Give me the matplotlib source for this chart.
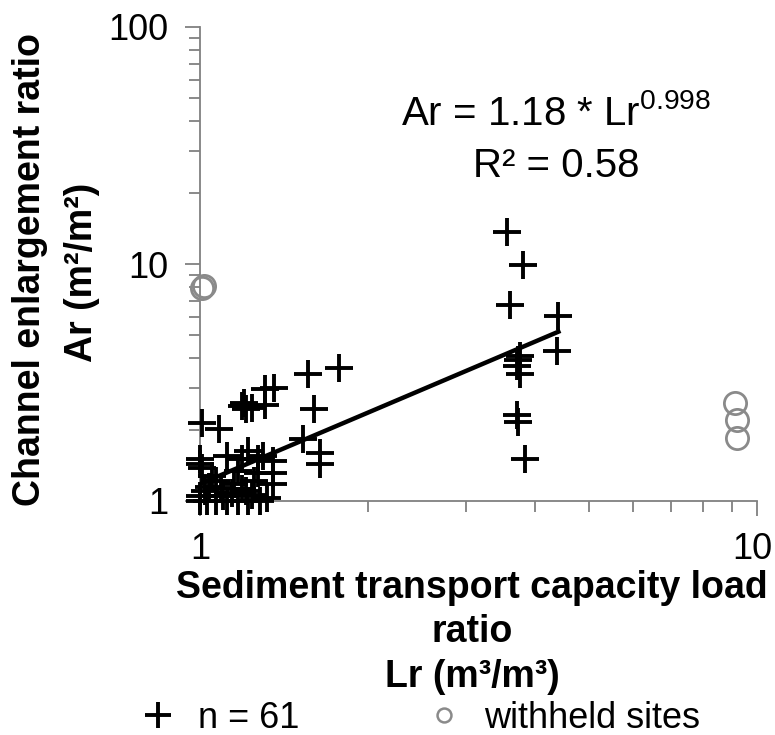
import matplotlib

matplotlib.use("Agg")
import matplotlib.pyplot as plt
from matplotlib.lines import Line2D
from matplotlib.ticker import LogLocator, NullFormatter
from matplotlib.transforms import offset_copy

plt.rcParams["font.family"] = ["Liberation Sans", "DejaVu Sans"]
plt.rcParams["mathtext.fontset"] = "custom"
plt.rcParams["mathtext.rm"] = "Liberation Sans"
plt.rcParams["mathtext.default"] = "regular"

# measured sites (n = 61): load ratio Lr vs enlargement ratio Ar
lr_sites = [
    3.56, 3.80, 3.60, 4.39, 4.37, 3.75, 3.71, 3.75, 3.73, 3.71, 3.73, 3.83,
    1.56, 1.78, 1.60, 1.53, 1.64, 1.64,
    1.31, 1.36, 1.31, 1.19, 1.21, 1.20, 1.24,
    1.01, 1.08, 1.00, 1.01, 1.00,
    1.22, 1.19, 1.27, 1.35, 1.35, 1.35, 1.27, 1.17, 1.07, 1.15, 1.21, 1.02,
    1.12, 1.30, 1.05, 1.25,
    1.00, 1.03, 1.07, 1.12, 1.17, 1.22, 1.28, 1.00, 1.10, 1.04, 1.14, 1.19,
    1.09, 1.24, 1.32,
]
ar_sites = [
    13.6, 9.9, 6.7, 6.05, 4.29, 4.09, 3.71, 3.43, 3.95, 2.30, 2.15, 1.50,
    3.44, 3.64, 2.44, 1.83, 1.59, 1.43,
    2.97, 3.00, 2.54, 2.52, 2.45, 2.60, 2.47,
    2.13, 2.01, 1.50, 1.38, 1.43,
    1.62, 1.50, 1.50, 1.47, 1.31, 1.18, 1.31, 1.34, 1.21, 1.18, 1.10, 1.10,
    1.55, 1.55, 1.28, 1.22,
    1.00, 1.00, 1.00, 1.00, 1.00, 1.00, 1.00, 1.05, 1.05, 1.15, 1.08, 1.12,
    1.13, 1.06, 1.03,
]

# withheld sites
lr_withheld = [1.01, 1.015, 9.13, 9.20, 9.22]
ar_withheld = [7.9, 8.05, 2.60, 2.20, 1.85]

# power-law fit Ar = 1.18 * Lr^0.998, drawn over the fitted range
trend_x = [1.0, 4.4]
trend_y = [1.18, 5.18]

x_ticks = [1, 10]
x_ticklabels = ["1", "10"]
y_ticks = [1, 10, 100]
y_ticklabels = ["1", "10", "100"]

fit_label = "Ar = 1.18 * Lr$^{0.998}$"
r2_label = "R² = 0.58"

GREY = "#8a8a8a"
AXIS = "#808080"
LABEL_SIZE = 27
TICK_SIZE = 26

fig = plt.figure(figsize=(7.75, 7.35), dpi=100)
ax = fig.add_axes([200 / 775, 1 - 501 / 735, 557 / 775, 474 / 735])

ax.set_xscale("log")
ax.set_yscale("log")
ax.set_xlim(1, 10)
ax.set_ylim(1, 100)

ax.plot(lr_sites, ar_sites, linestyle="none", marker="+", markersize=20,
        markeredgewidth=2.8, color="black", clip_on=False, zorder=3)
ax.plot(lr_withheld, ar_withheld, linestyle="none", marker="o", markersize=16,
        markerfacecolor="none", markeredgewidth=2.0, markeredgecolor=GREY,
        clip_on=False, zorder=3)
ax.plot(trend_x, trend_y, color="black", linewidth=3.2, zorder=4)

for side in ("top", "right"):
    ax.spines[side].set_visible(False)
for side in ("left", "bottom"):
    ax.spines[side].set_color(AXIS)
    ax.spines[side].set_linewidth(1.3)

ax.set_xticks(x_ticks)
ax.set_xticklabels(x_ticklabels)
ax.set_yticks(y_ticks)
ax.set_yticklabels(y_ticklabels)
ax.xaxis.set_minor_locator(LogLocator(base=10, subs=range(2, 10)))
ax.yaxis.set_minor_locator(LogLocator(base=10, subs=range(2, 10)))
ax.xaxis.set_minor_formatter(NullFormatter())
ax.yaxis.set_minor_formatter(NullFormatter())
ax.tick_params(which="major", direction="out", length=11, width=1.3, color=AXIS,
               labelsize=TICK_SIZE, labelcolor="black")
ax.tick_params(which="minor", direction="out", length=8, width=1.3, color=AXIS)
ax.tick_params(axis="y", which="major", pad=12)
ax.tick_params(axis="x", which="major", pad=11)

# the "10" label sits against the right edge; nudge it in so it isn't clipped
last = ax.get_xticklabels()[-1]
last.set_transform(offset_copy(last.get_transform(), fig=fig, x=-5, units="dots"))

ax.text(0.64, 0.818, fit_label, transform=ax.transAxes, ha="center", va="center",
        fontsize=29)
ax.text(0.64, 0.707, r2_label, transform=ax.transAxes, ha="center", va="center",
        fontsize=29)

# axis titles
fig.text(472 / 775, 1 - 588 / 735, "Sediment transport capacity load", ha="center",
         va="center", fontsize=LABEL_SIZE, fontweight="bold")
fig.text(472 / 775, 1 - 632 / 735, "ratio", ha="center", va="center",
         fontsize=LABEL_SIZE, fontweight="bold")
fig.text(472 / 775, 1 - 677 / 735, "Lr (m³/m³)", ha="center", va="center",
         fontsize=LABEL_SIZE, fontweight="bold")
fig.text(30 / 775, 1 - 269 / 735, "Channel enlargement ratio", rotation=90,
         ha="center", va="center", fontsize=LABEL_SIZE, fontweight="bold")
fig.text(82 / 775, 1 - 272 / 735, "Ar (m²/m²)", rotation=90, ha="center",
         va="center", fontsize=LABEL_SIZE, fontweight="bold")

handles = [
    Line2D([], [], linestyle="none", marker="+", markersize=19, markeredgewidth=2.8,
           color="black"),
    Line2D([], [], linestyle="none", marker="o", markersize=10,
           markerfacecolor="none", markeredgewidth=1.8, markeredgecolor=GREY),
]
fig.legend(handles, ["n = 61", "withheld sites"], loc="center",
           bbox_to_anchor=(420 / 775, 1 - 718 / 735), ncol=2, frameon=False,
           fontsize=26, handlelength=1.0, handletextpad=0.6, columnspacing=3.5,
           borderpad=0, borderaxespad=0)

fig.savefig("out.png", dpi=100)
